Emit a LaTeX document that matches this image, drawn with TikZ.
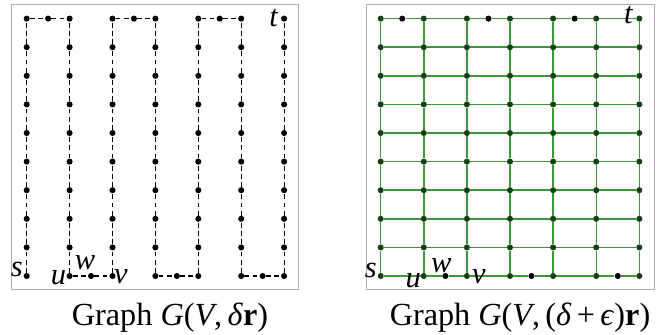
\documentclass[tikz,border=0pt]{standalone}
\definecolor{gridgreen}{RGB}{62,150,58}
\definecolor{dotgreen}{RGB}{20,64,20}
\definecolor{framegray}{RGB}{175,175,175}
\usepackage{fontspec}
\setmainfont{Liberation Serif}
\usepackage{tikz}
\usetikzlibrary{calc}

\begin{document}
\begin{tikzpicture}[x=0.03cm,y=-0.03cm,
		vtx/.style={circle,fill=black,inner sep=0pt,minimum size=5.2pt},
		gvtx/.style={vtx,fill=dotgreen},
		pathedge/.style={black,line width=1pt,dash pattern=on 4pt off 3pt},
		gridedge/.style={gridgreen,line width=1.2pt},
		lbl/.style={inner sep=0pt,font=\fontsize{26}{30}\selectfont\itshape},
		caption/.style={anchor=base,inner sep=0pt,font=\fontsize{27.5}{32}\selectfont}]
			\useasboundingbox (0,0) rectangle (667,335);
			% frames
			\draw[framegray,line width=0.8pt] (11,4) rectangle (298,289);
			\draw[framegray,line width=0.8pt] (366,4) rectangle (654,289);
			% left graph: vertices
			\foreach \i in {0,...,6}
				\foreach \j in {0,...,9}
					\node[vtx] (L\i-\j) at ({26.7+42.9*\i},{276-28.6*\j}) {};
			\foreach \i in {0,2,4}
				\node[vtx] (LT\i) at ({26.7+42.9*(\i+0.5)},{276-28.6*9}) {};
			\foreach \i in {1,3,5}
				\node[vtx] (LB\i) at ({26.7+42.9*(\i+0.5)},276) {};
			% left graph: path from s to t
			\foreach \i in {0,...,6}
				\foreach \j [count=\k] in {0,...,8}
					\draw[pathedge] (L\i-\j) -- (L\i-\k);
			\foreach \i/\n in {0/1,2/3,4/5}
				\draw[pathedge] (L\i-9) -- (LT\i) -- (L\n-9);
			\foreach \i/\n in {1/2,3/4,5/6}
				\draw[pathedge] (L\i-0) -- (LB\i) -- (L\n-0);
			\node[lbl] (Ls) at ($(L0-0)+(-10,-7)$) {s};
			\node[lbl] (Lu) at ($(L1-0)+(-11,2)$) {u};
			\node[lbl] (Lw) at ($(LB1)+(-6,-13)$) {w};
			\node[lbl] (Lv) at ($(L2-0)+(8.5,1)$) {v};
			\node[lbl] (Lt) at ($(L6-9)+(-10.5,-1)$) {t};
			% right graph: vertices
			\foreach \i in {0,...,6}
				\foreach \j in {0,...,9}
					\node[gvtx] (R\i-\j) at ({380.7+43.1*\i},{276-28.6*\j}) {};
			\foreach \i in {0,2,4}
				\node[vtx] (RT\i) at ({380.7+43.1*(\i+0.5)},{276-28.6*9}) {};
			\foreach \i in {1,3,5}
				\node[vtx] (RB\i) at ({380.7+43.1*(\i+0.5)},276) {};
			% right graph: edges
			\foreach \i in {0,...,6}
				\foreach \j [count=\k] in {0,...,8}
					\draw[gridedge] (R\i-\j) -- (R\i-\k);
			\foreach \j in {1,...,8}
				\foreach \i [count=\k] in {0,...,5}
					\draw[gridedge] (R\i-\j) -- (R\k-\j);
			\foreach \i/\n in {0/1,2/3,4/5}
				\draw[gridedge] (R\i-9) -- (RT\i) -- (R\n-9);
			\foreach \i/\n in {1/2,3/4,5/6}
				\draw[gridedge] (R\i-9) -- (R\n-9);
			\foreach \i/\n in {1/2,3/4,5/6}
				\draw[gridedge] (R\i-0) -- (RB\i) -- (R\n-0);
			\foreach \i/\n in {0/1,2/3,4/5}
				\draw[gridedge] (R\i-0) -- (R\n-0);
			\node[lbl] (Rs) at ($(R0-0)+(-10,-6)$) {s};
			\node[lbl] (Ru) at ($(R1-0)+(-10.5,5)$) {u};
			\node[lbl] (Rw) at ($(RB1)+(-4,-10)$) {w};
			\node[lbl] (Rv) at ($(R2-0)+(12,1)$) {v};
			\node[lbl] (Rt) at ($(R6-9)+(-11,-4)$) {t};
			% captions
			\node[caption] (capL) at (170,325) {Graph \textit{G}(\textit{V},\,\textit{δ}\textbf{r})};
			\node[caption] (capR) at (520,325) {Graph \textit{G}(\textit{V},\,(\textit{δ}\,+\,\textit{ϵ})\textbf{r})};
		\end{tikzpicture}
\end{document}
